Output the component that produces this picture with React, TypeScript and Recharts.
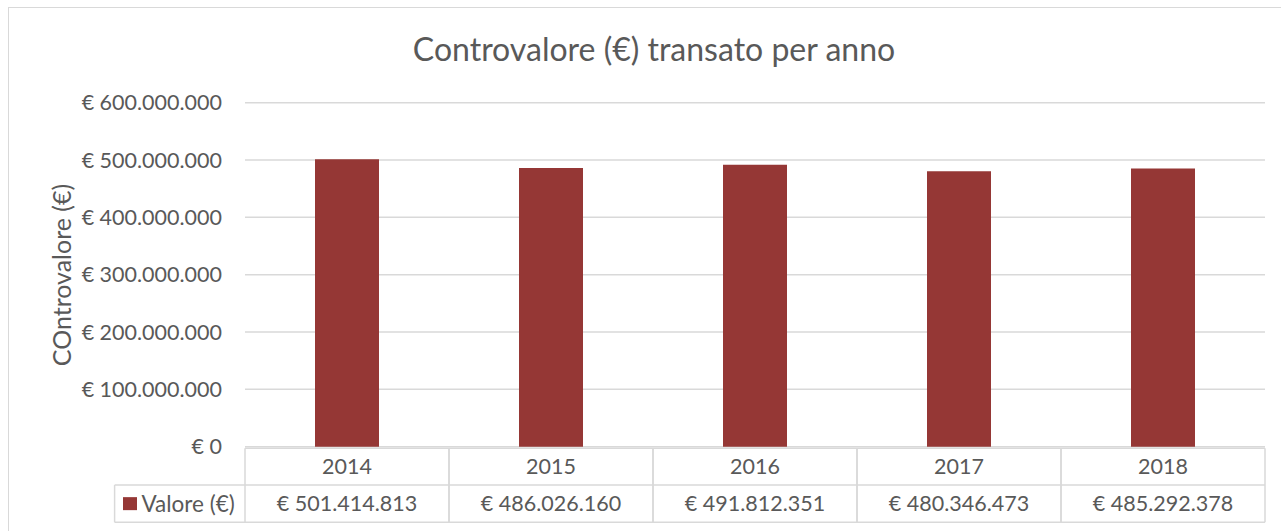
import { BarChart, Bar, XAxis, YAxis, CartesianGrid } from 'recharts'

const years = ['2014', '2015', '2016', '2017', '2018']
const values = [501414813, 486026160, 491812351, 480346473, 485292378]
const yTicks = [0, 100000000, 200000000, 300000000, 400000000, 500000000, 600000000]
const seriesName = 'Valore (€)'
const chartTitle = 'Controvalore (€) transato per anno'
const yTitle = 'COntrovalore (€)'

const data = years.map((year, i) => ({ year, value: values[i] }))

const W = 1272
const H = 523
const Y_AXIS_W = 236
const RIGHT = 16
const BW = (W - Y_AXIS_W - RIGHT) / years.length
const TEXT = '#595959'
const LINE = '#d9d9d9'
const BAR = '#953735'
const FONT = 'Lato, "Open Sans", sans-serif'
const FS = 21.5

const euro = (n: number) => '€ ' + String(n).replace(/\B(?=(\d{3})+(?!\d))/g, '.')

// data table under the plot, one column per category tick
function TableTick(props: any) {
    const { x, y, payload, index } = props
    const left = x - BW / 2
    const right = x + BW / 2
    const top = y + 1.6
    const mid = top + 36.7
    const bottom = mid + 37.3
    const ln = { stroke: LINE, strokeWidth: 1.5 }
    return (
        <g>
            <line x1={left} y1={top} x2={right} y2={top} {...ln} />
            <line x1={left} y1={mid} x2={right} y2={mid} {...ln} />
            <line x1={left} y1={bottom} x2={right} y2={bottom} {...ln} />
            <line x1={left} y1={top} x2={left} y2={bottom} {...ln} />
            <line x1={right} y1={top} x2={right} y2={bottom} {...ln} />
            <text x={x} y={(top + mid) / 2} dy="0.35em" textAnchor="middle" fill={TEXT} fontSize={FS} fontFamily={FONT}>
                {payload.value}
            </text>
            <text x={x} y={(mid + bottom) / 2} dy="0.35em" textAnchor="middle" fill={TEXT} fontSize={FS} fontFamily={FONT}>
                {euro(data[index].value)}
            </text>
            {index === 0 && (
                <g>
                    <line x1={left - 130.4} y1={mid} x2={left} y2={mid} {...ln} />
                    <line x1={left - 130.4} y1={bottom} x2={left} y2={bottom} {...ln} />
                    <line x1={left - 130.4} y1={mid} x2={left - 130.4} y2={bottom} {...ln} />
                    <rect x={left - 122} y={(mid + bottom) / 2 - 6.5} width={14} height={13} fill={BAR} />
                    <text x={left - 103.5} y={(mid + bottom) / 2} dy="0.35em" fill={TEXT} fontSize={FS + 1} fontFamily={FONT}>
                        {seriesName}
                    </text>
                </g>
            )}
        </g>
    )
}

export default function App() {
    return (
        <div
            style={{
                position: 'absolute',
                left: 8,
                top: 7,
                width: W + 1,
                height: H + 1,
                boxSizing: 'border-box',
                borderTop: `1px solid ${LINE}`,
                borderLeft: `1px solid ${LINE}`,
                background: '#fff',
                fontFamily: FONT,
            }}
        >
            {/* Title */}
            <div
                style={{
                    position: 'absolute',
                    top: 24.6,
                    left: 345,
                    width: 600,
                    textAlign: 'center',
                    fontSize: 32,
                    lineHeight: '32px',
                    color: TEXT,
                }}
            >
                {chartTitle}
            </div>

            <BarChart width={W} height={H} data={data} margin={{ top: 94.7, right: RIGHT, left: 0, bottom: 8.3 }}>
                <CartesianGrid vertical={false} stroke={LINE} strokeWidth={1.5} />
                <XAxis
                    dataKey="year"
                    axisLine={false}
                    tickLine={false}
                    tickSize={0}
                    tickMargin={0}
                    height={76}
                    interval={0}
                    tick={<TableTick />}
                />
                <YAxis
                    width={Y_AXIS_W}
                    domain={[0, 600000000]}
                    ticks={yTicks}
                    axisLine={false}
                    tickLine={false}
                    tickSize={0}
                    tickMargin={23}
                    tickFormatter={euro}
                    tick={{ fill: TEXT, fontSize: FS, fontFamily: FONT }}
                    label={() => (
                        <text
                            x={53}
                            y={267}
                            transform="rotate(-90 53 267)"
                            textAnchor="middle"
                            dy="0.35em"
                            fill={TEXT}
                            fontSize={25}
                            fontFamily={FONT}
                        >
                            {yTitle}
                        </text>
                    )}
                />
                <Bar dataKey="value" fill={BAR} barSize={64} isAnimationActive={false} />
            </BarChart>
        </div>
    )
}
